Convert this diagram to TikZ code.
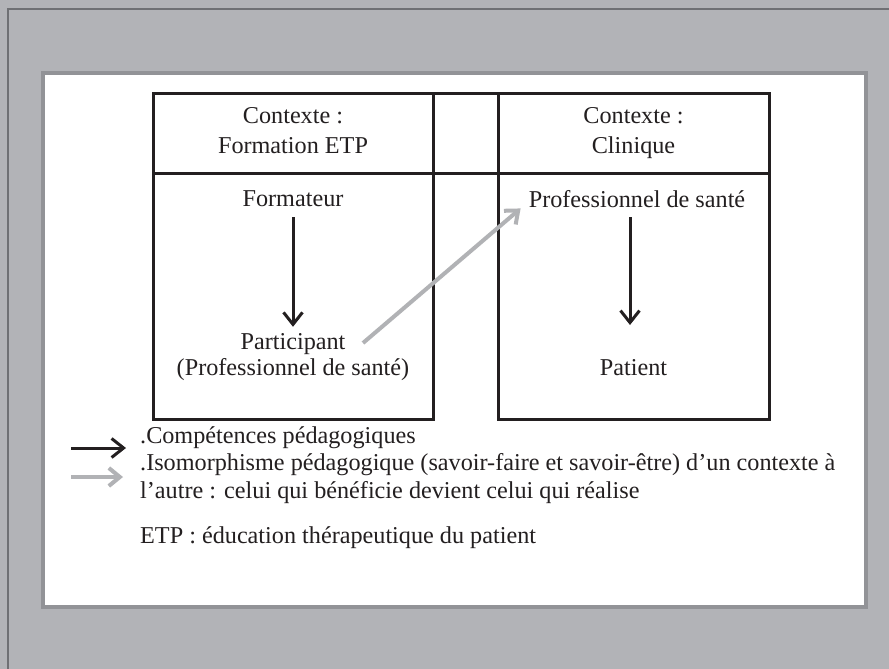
\documentclass[tikz,border=0pt]{standalone}
\usepackage{fontspec}
\setmainfont{Liberation Serif}
\usetikzlibrary{arrows.meta}
\definecolor{bggray}{HTML}{B2B3B7}
\definecolor{rimgray}{HTML}{6F7074}
\definecolor{framegray}{HTML}{929397}
\definecolor{ink}{HTML}{231F20}
\definecolor{isogray}{HTML}{B1B2B5}
\tikzset{
  txt/.style={text=ink, font=\fontsize{24.2}{26}\selectfont, inner sep=0pt},
  tableline/.style={draw=ink, line width=3pt},
  darrow/.style={draw=ink, line width=3pt, -{Straight Barb[length=12pt,width=19pt]}},
  garrow/.style={draw=isogray, line width=4pt, -{Straight Barb[length=11pt,width=18pt]}},
}
\begin{document}
\begin{tikzpicture}[x=1pt, y=-1pt]
    \useasboundingbox (0,0) rectangle (889,669);
    \fill[bggray] (0,0) rectangle (889,669);
    \draw[rimgray, line width=2pt] (8,669) -- (8,9) -- (889,9);
    \draw[framegray, line width=4pt, fill=white] (43,73) rectangle (866,606.5);
    % table
    \draw[tableline] (153,93) rectangle (433,419);
    \draw[tableline] (498,93) rectangle (769,419);
    \draw[tableline] (433,93) -- (498,93);
    \draw[tableline] (153,173.5) -- (769,173.5);
    % cells
    \node[txt, anchor=base] (ctxa) at (293,123) {Contexte :};
    \node[txt, anchor=base] (forma) at (293,153) {Formation ETP};
    \node[txt, anchor=base] (ctxb) at (633.5,123) {Contexte :};
    \node[txt, anchor=base] (clin) at (633.5,153) {Clinique};
    \node[txt, anchor=base] (formateur) at (293,206) {Formateur};
    \node[txt, anchor=base, align=center] (part) at (293,375) {Participant\\(Professionnel de santé)};
    \node[txt, anchor=base] (prof) at (637,207) {Professionnel de santé};
    \node[txt, anchor=base] (patient) at (633.5,375) {Patient};
    \draw[darrow, shorten >=6pt] (293,217) -- (part.north);
    \draw[darrow] (630,217) -- (630,325);
    \coordinate (isostart) at (363,343);
    \draw[garrow] (isostart) -- ([xshift=-8pt,yshift=-1pt]prof.south west);
    % legend
    \coordinate (keya) at (71,448);
    \coordinate (keyb) at (71,477);
    \draw[darrow] (keya) -- ++(55,0);
    \draw[garrow] (keyb) -- ++(52,0);
    \node[txt, anchor=base west] (leg1) at (140,443) {.Compétences pédagogiques};
    \node[txt, anchor=base west] (leg2) at (140,470) {.Isomorphisme pédagogique (savoir-faire et savoir-être) d’un contexte à};
    \node[txt, anchor=base west] (leg3) at (140,498) {l’autre : celui qui bénéficie devient celui qui réalise};
    \node[txt, anchor=base west] (leg4) at (140,543) {ETP : éducation thérapeutique du patient};
\end{tikzpicture}
\end{document}
